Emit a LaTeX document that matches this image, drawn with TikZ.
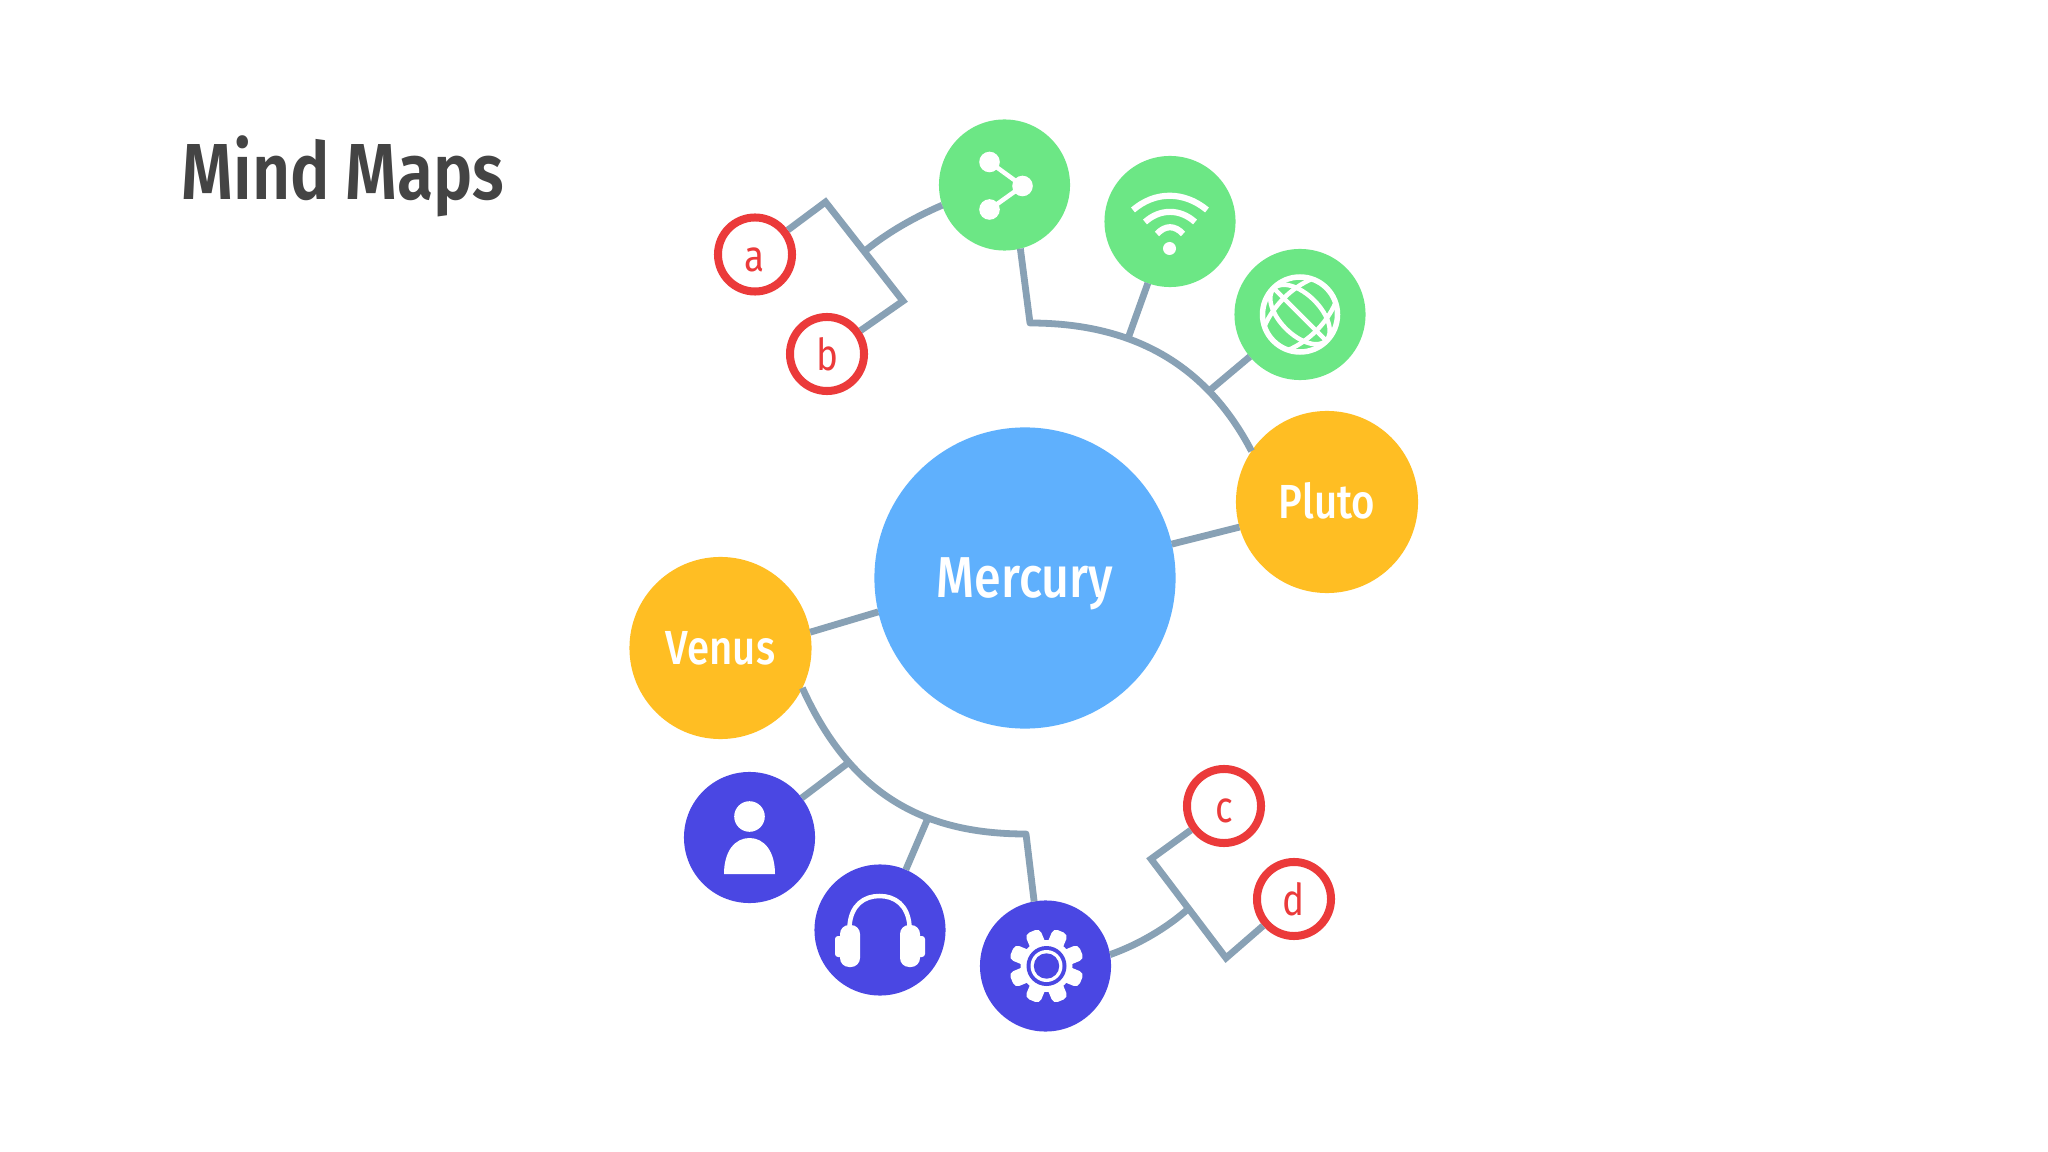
\documentclass[tikz,border=0pt]{standalone}
\usepackage{fontspec}
\setmainfont{Fira Sans}[FakeStretch=0.84]
\newfontfamily\labelfont{Fira Sans Medium}[FakeStretch=0.84]
\newfontfamily\headfont{Fira Sans SemiBold}[FakeStretch=0.83]
\usetikzlibrary{calc}
\definecolor{linkgray}{HTML}{88A1B5}
\definecolor{sunblue}{HTML}{5FB0FD}
\definecolor{planetgold}{HTML}{FFBE23}
\definecolor{leafgreen}{HTML}{6CE785}
\definecolor{deepindigo}{HTML}{4A47E3}
\definecolor{ringred}{HTML}{EB3A3A}
\definecolor{titlegray}{HTML}{444444}
\tikzset{
x=.01cm, y=-.01cm, % one unit is one pixel of the reference
disc/.style={circle, inner sep=0pt, outer sep=0pt, text=white},
sun/.style={disc, fill=sunblue, minimum size=3.01cm, text height=11pt, text depth=0pt, font=\fontsize{16.4}{18}\labelfont},
planet/.style={disc, fill=planetgold, minimum size=1.82cm, text height=9.2pt, text depth=0pt, font=\fontsize{13.6}{15}\labelfont},
iconbg/.style={disc, minimum size=1.31cm},
ring/.style={circle, draw=ringred, line width=.08cm, inner sep=0pt, minimum size=.74cm, text=ringred, text height=9.4pt, text depth=0pt, font=\fontsize{12.5}{14}\selectfont},
link/.style={draw=linkgray, line width=.068cm},
glyph/.style={draw=white, line width=.045cm},
}

\begin{document}
\begin{tikzpicture}
  \useasboundingbox[fill=white] (0,0) rectangle (2048,1152);
  \node[anchor=base west, inner sep=0pt, text=titlegray, font=\fontsize{22.6}{26}\headfont] (title) at (181,200) {Mind Maps};
  \node[sun] (mercury) at (1025,578) {Mercury};
  \node[planet] (pluto) at (1327,502) {Pluto};
  \node[planet] (venus) at (720.5,648) {Venus};
  \node[iconbg, fill=leafgreen] (share) at (1004.5,185) {};
  \node[iconbg, fill=leafgreen] (wifi) at (1170,221.5) {};
  \node[iconbg, fill=leafgreen] (globe) at (1300,314.5) {};
  \node[iconbg, fill=deepindigo] (person) at (749.5,837.5) {};
  \node[iconbg, fill=deepindigo] (phones) at (880,930) {};
  \node[iconbg, fill=deepindigo] (gear) at (1045.5,966) {};
  \node[ring] (a) at (755,254.5) {a};
  \node[ring] (b) at (827,354) {b};
  \node[ring] (c) at (1224,806) {c};
  \node[ring] (d) at (1294,899) {d};
  % corners and junctions of the links
  \coordinate (topcorner) at (1030,323);
  \coordinate (wifijoin) at (1128,338.5);
  \coordinate (globejoin) at (1209,391);
  \coordinate (lowcorner) at (1026,834);
  \coordinate (phonesjoin) at (928,818);
  \coordinate (personjoin) at (848,763);
  \coordinate (abtop) at (825.5,202);
  \coordinate (abbot) at (903,301);
  \coordinate (abjoin) at ($(abtop)!.5!(abbot)$);
  \coordinate (cdtop) at (1151,859);
  \coordinate (cdbot) at (1226,958);
  \coordinate (cdjoin) at ($(cdtop)!.5!(cdbot)$);
  % links
  \draw[link] (mercury.13.8) -- (pluto.196.2);
  \draw[link] (mercury.193.8) -- (venus.10.1);
  \draw[link, line join=round] (share.-76) -- (topcorner) .. controls (1130,323) and (1205,362) .. (pluto.146);
  \draw[link] (wifi) -- (wifijoin);
  \draw[link] (globe) -- (globejoin);
  \draw[link, line join=round] (gear.100) -- (lowcorner) .. controls (930,834) and (853,800) .. (venus.-26.6);
  \draw[link] (phones) -- (phonesjoin);
  \draw[link] (person) -- (personjoin);
  \draw[link] (a) -- (abtop) -- (abbot) -- (b);
  \draw[link] (c) -- (cdtop) -- (cdbot) -- (d);
  \draw[link] (share.198) .. controls (915,217) and (888,232) .. (abjoin);
  \draw[link] (gear.10) .. controls (1140,944) and (1168,927) .. (cdjoin);
  % share glyph
  \fill[white] (989.5,162) circle (10.3) (1022.5,186) circle (10.3) (989.5,209.5) circle (10.3);
  \draw[glyph] (989.5,162) -- (1022.5,186) -- (989.5,209.5);
  % wifi glyph
  \fill[white] (1169.5,248.5) circle (6.5);
  \draw[glyph, line width=.062cm] (1133,210) .. controls (1155,191) and (1184,191) .. (1207,210);
  \draw[glyph, line width=.062cm] (1145,222) .. controls (1160,208.5) and (1180,208.5) .. (1195,222);
  \draw[glyph, line width=.062cm] (1157,234) .. controls (1165,225) and (1175,225) .. (1183,234);
  % globe glyph
  \begin{scope}[shift={(1300,314.5)}, rotate=-45]
    \draw[glyph, line width=.055cm] (0,0) circle (37.5);
    \draw[glyph] (0,0) ellipse (37 and 20);
    \draw[glyph] (-37,0) -- (37,0);
    \draw[glyph] (-17,-33) .. controls (-25,-12) and (-25,12) .. (-17,33);
    \draw[glyph] (17,-33) .. controls (25,-12) and (25,12) .. (17,33);
  \end{scope}
  % person glyph
  \fill[white] (749.5,816.5) circle (15.3);
  \fill[white] (724,874) .. controls (724,851) and (735,838) .. (749.5,838) .. controls (764,838) and (775,851) .. (775,874) -- cycle;
  % headphones glyph
  \draw[glyph] (849.5,926) .. controls (851,905) and (864,896) .. (879.5,896) .. controls (895,896) and (908,905) .. (909.5,926);
  \foreach \cupx/\padx in {840/835,900/910} {
    \fill[white, rounded corners=.09cm] (\cupx,925) rectangle ++(20,42);
    \fill[white, rounded corners=.03cm] (\padx,936) rectangle ++(15,21);
  }
  % gear glyph
  \begin{scope}[shift={(1046.5,966)}]
    \foreach \ang in {22.5,67.5,...,337.5}
      \fill[white, rounded corners=.05cm, rotate=\ang] (15,-8) rectangle (37.5,8);
    \fill[white] (0,0) circle (26);
    \fill[deepindigo] (0,0) circle (20);
    \fill[white] (0,0) circle (16);
    \fill[deepindigo] (0,0) circle (12.7);
  \end{scope}
\end{tikzpicture}
\end{document}
